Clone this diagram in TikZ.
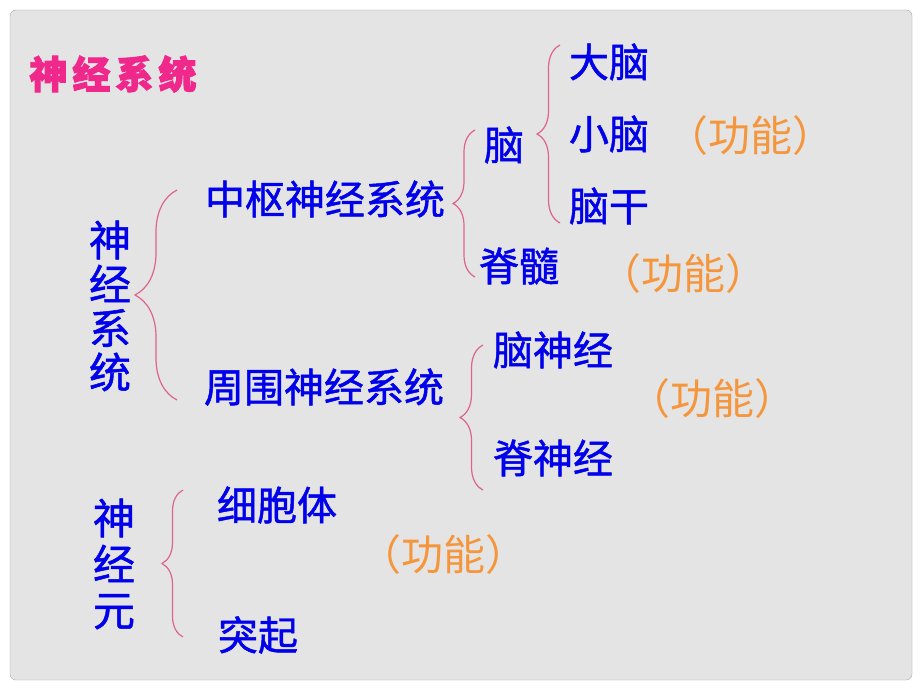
\documentclass[tikz,border=0pt]{standalone}
\usepackage{fontspec}
\setmainfont{Noto Sans CJK SC}
\newfontfamily\titlefont[BoldFeatures={FakeBold=2.5}]{Noto Sans CJK SC}
\newfontfamily\itemfont[FakeBold=1.2]{Noto Sans CJK SC}
\usetikzlibrary{decorations.pathreplacing}

\definecolor{panelgray}{RGB}{228,228,228}
\definecolor{panelline}{RGB}{170,170,170}
\definecolor{titlepink}{RGB}{240,40,140}
\definecolor{itemblue}{RGB}{0,0,235}
\definecolor{noteorange}{RGB}{245,150,60}
\definecolor{bracepink}{RGB}{222,100,140}

\begin{document}
\begin{tikzpicture}[x=1pt,y=-1pt,
  heading/.style={text=titlepink,font=\titlefont\fontsize{38}{40}\selectfont\bfseries,inner sep=0pt},
  item/.style={text=itemblue,font=\itemfont\fontsize{40}{44}\selectfont,inner sep=0pt},
  upright/.style={item,align=center,font=\itemfont\fontsize{42}{#1}\selectfont},
  note/.style={text=noteorange,font=\fontsize{42}{44}\selectfont,inner sep=0pt},
  curly/.style={draw=bracepink,line width=1.2pt,decorate,decoration={brace,amplitude=#1}}]
\useasboundingbox (0,0) rectangle (920,690);
\fill[white] (0,0) rectangle (920,690);
\draw[panelline,fill=panelgray,rounded corners=6pt] (10,10) rectangle (912,680);

\node[heading] (title) at (113,74) {神\hspace{5pt}经\hspace{5pt}系\hspace{5pt}统};

\node[upright=44] (system) at (110,306) {神\\经\\系\\统};
\node[item] (central) at (325,199) {中枢神经系统};
\node[item] (peripheral) at (324,387) {周围神经系统};
\node[item] (brain) at (504,145) {脑};
\node[item] (cord) at (519,266) {脊髓};
\node[item] (cerebrum) at (609,62) {大脑};
\node[item] (cerebellum) at (609,134) {小脑};
\node[item] (stem) at (609,206) {脑干};
\node[item] (cranial) at (553,350) {脑神经};
\node[item] (spinal) at (553,458) {脊神经};
\node[upright=46] (neuron) at (114,564) {神\\经\\元};
\node[item] (soma) at (277,505) {细胞体};
\node[item] (process) at (258,635) {突起};

\node[note] (fn1) at (750,136) {（功能）};
\node[note] (fn2) at (683,274) {（功能）};
\node[note] (fn3) at (712,399) {（功能）};
\node[note] (fn4) at (443,555) {（功能）};

\coordinate (b1a) at (177,400);
\coordinate (b1b) at (177,190);
\coordinate (b2a) at (475,277);
\coordinate (b2b) at (475,130);
\coordinate (b3a) at (560,223);
\coordinate (b3b) at (560,45);
\coordinate (b4a) at (483,490);
\coordinate (b4b) at (483,345);
\coordinate (b5a) at (183,637);
\coordinate (b5b) at (183,490);

\draw[curly=42] (b1a) -- (b1b);
\draw[curly=22] (b2a) -- (b2b);
\draw[curly=23] (b3a) -- (b3b);
\draw[curly=23] (b4a) -- (b4b);
\draw[curly=21] (b5a) -- (b5b);
\end{tikzpicture}
\end{document}
